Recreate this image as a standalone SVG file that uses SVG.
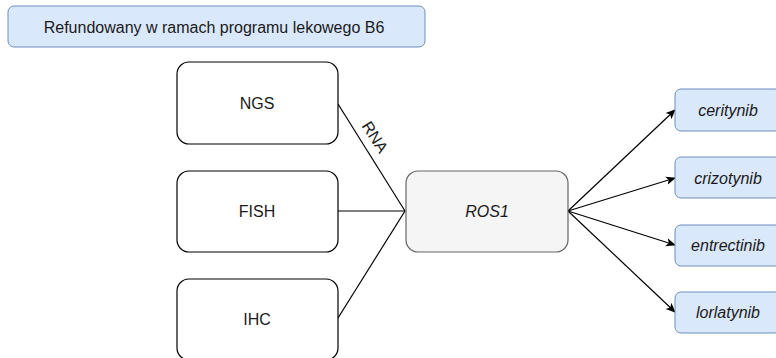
<svg xmlns="http://www.w3.org/2000/svg" width="776" height="358" viewBox="0 0 776 358">
  <style>
    text { font-family: "Liberation Sans", Arial, sans-serif; font-size: 16px; fill: #1a1a1a; text-anchor: middle; dominant-baseline: central; }
    .blue { fill: #dae8fc; stroke: #6c8ebf; stroke-width: 1; }
    .test { fill: #fff; stroke: #000; stroke-width: 1.2; }
    .gene { fill: #f5f5f5; stroke: #666; stroke-width: 1.2; }
    .it { font-style: italic; }
    .edge { stroke: #000; stroke-width: 1.2; fill: none; }
  </style>
  <defs>
    <marker id="arrow" viewBox="0 0 10 10" refX="9" refY="5" markerWidth="10" markerHeight="10" markerUnits="userSpaceOnUse" orient="auto">
      <path d="M0,0.8 L10,5 L0,9.2 L2.5,5 Z" fill="#000"/>
    </marker>
  </defs>
  <rect width="776" height="358" fill="#fff"/>

  <g id="legend">
    <rect class="blue" x="8" y="6" width="417" height="41" rx="6"/>
    <text x="214" y="27">Refundowany w ramach programu lekowego B6</text>
  </g>

  <g id="connectors">
    <path class="edge" d="M338,104 L405,211"/>
    <path class="edge" d="M338,211 L405,211"/>
    <path class="edge" d="M338,318 L405,211"/>
    <text x="375" y="137" transform="rotate(57.7 375 137)">RNA</text>
    <path class="edge" d="M568,211 L675,110" marker-end="url(#arrow)"/>
    <path class="edge" d="M568,211 L675,178" marker-end="url(#arrow)"/>
    <path class="edge" d="M568,211 L675,245" marker-end="url(#arrow)"/>
    <path class="edge" d="M568,211 L675,312" marker-end="url(#arrow)"/>
  </g>

  <g id="ngs">
    <rect class="test" x="177" y="62" width="161" height="82" rx="12"/>
    <text x="257" y="103">NGS</text>
  </g>
  <g id="fish">
    <rect class="test" x="177" y="171" width="161" height="81" rx="12"/>
    <text x="257" y="211">FISH</text>
  </g>
  <g id="ihc">
    <rect class="test" x="177" y="279" width="161" height="81" rx="12"/>
    <text x="257" y="319">IHC</text>
  </g>

  <g id="ros1">
    <rect class="gene" x="406" y="171" width="162" height="81" rx="12"/>
    <text class="it" x="487" y="211">ROS1</text>
  </g>

  <g id="ceritynib">
    <rect class="blue" x="675" y="89" width="106" height="42" rx="6"/>
    <text class="it" x="728" y="110">ceritynib</text>
  </g>
  <g id="crizotynib">
    <rect class="blue" x="675" y="157" width="106" height="41" rx="6"/>
    <text class="it" x="728" y="178">crizotynib</text>
  </g>
  <g id="entrectinib">
    <rect class="blue" x="675" y="225" width="106" height="41" rx="6"/>
    <text class="it" x="728" y="245">entrectinib</text>
  </g>
  <g id="lorlatynib">
    <rect class="blue" x="675" y="292" width="106" height="41" rx="6"/>
    <text class="it" x="728" y="312">lorlatynib</text>
  </g>
</svg>
